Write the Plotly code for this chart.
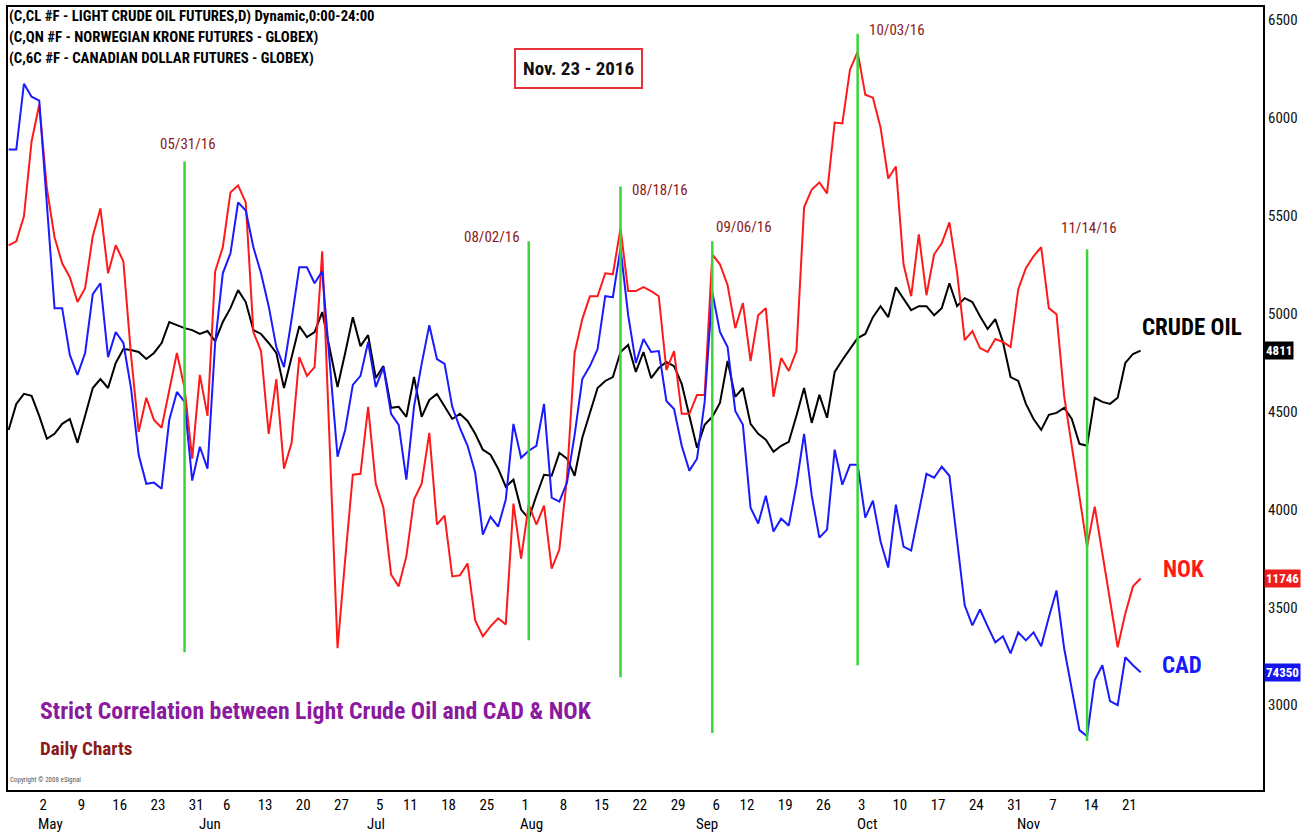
import pandas as pd
import plotly.graph_objects as go

# ---------------- data ----------------
holidays = ["2016-05-30", "2016-07-04", "2016-09-05"]
dates = [d for d in pd.bdate_range("2016-04-26", "2016-11-23")
         if d.strftime("%Y-%m-%d") not in holidays]

crude_oil = [4406, 4539, 4590, 4580, 4478, 4361, 4386, 4437, 4462, 4340,
             4478, 4620, 4666, 4620, 4748, 4819, 4814, 4804, 4768, 4799,
             4850, 4957, 4941, 4926, 4916, 4896, 4911, 4860, 4957, 5028,
             5120, 5059, 4916, 4896, 4850, 4799, 4620, 4784, 4936, 4880,
             4906, 5008, 4814, 4625, 4799, 4982, 4834, 4890, 4671, 4732,
             4519, 4524, 4473, 4676, 4473, 4559, 4590, 4524, 4462, 4488,
             4452, 4386, 4305, 4279, 4208, 4116, 4152, 3999, 3953, 4070,
             4177, 4172, 4289, 4259, 4172, 4366, 4493, 4620, 4656, 4676,
             4804, 4840, 4702, 4804, 4671, 4722, 4753, 4732, 4641, 4478,
             4315, 4432, 4473, 4544, 4758, 4575, 4620, 4437, 4386, 4356,
             4294, 4325, 4345, 4478, 4620, 4442, 4585, 4468, 4702, 4763,
             4819, 4875, 4896, 4982, 5038, 4982, 5135, 5079, 5018, 5038,
             5038, 4992, 5028, 5155, 5038, 5079, 5059, 4987, 4921, 4972,
             4855, 4676, 4656, 4539, 4462, 4406, 4483, 4493, 4519, 4462,
             4335, 4325, 4570, 4549, 4539, 4570, 4748, 4794, 4811]

nok = [5349, 5369, 5497, 5879, 6067, 5639, 5390, 5257, 5186, 5059,
       5130, 5395, 5537, 5206, 5349, 5267, 4789, 4396, 4570, 4457,
       4417, 4600, 4799, 4620, 4259, 4687, 4478, 5216, 5339, 5619,
       5655, 5568, 4906, 4809, 4386, 4666, 4208, 4340, 4778, 4682,
       4727, 5318, 4300, 3291, 3744, 4177, 4182, 4524, 4131, 4009,
       3668, 3607, 3760, 4050, 4131, 4391, 3923, 3968, 3658, 3663,
       3724, 3433, 3352, 3403, 3444, 3413, 4030, 3749, 4024, 3923,
       4019, 3698, 3795, 4162, 4799, 4972, 5089, 5089, 5206, 5201,
       5436, 5115, 5115, 5135, 5115, 5089, 4712, 4809, 4488, 4488,
       4585, 4585, 5303, 5252, 5145, 4926, 5054, 4758, 4992, 5028,
       4575, 4773, 4707, 4809, 5543, 5634, 5670, 5614, 5976, 5971,
       6246, 6337, 6118, 6103, 5950, 5690, 5751, 5252, 5089, 5405,
       5094, 5303, 5359, 5466, 5211, 4865, 4911, 4824, 4804, 4870,
       4855, 4829, 5125, 5232, 5293, 5339, 5028, 4997, 4580, 4325,
       4075, 3810, 4014, 3770, 3525, 3296, 3469, 3607, 3647]

cad = [5838, 5838, 6174, 6108, 6088, 5573, 5028, 5028, 4789, 4687,
       4799, 5099, 5155, 4778, 4906, 4850, 4620, 4279, 4131, 4137,
       4106, 4457, 4600, 4549, 4147, 4320, 4208, 4850, 5206, 5308,
       5568, 5527, 5339, 5206, 5038, 4829, 4727, 4972, 5237, 5237,
       5155, 5216, 4743, 4269, 4406, 4636, 4682, 4855, 4625, 4727,
       4488, 4432, 4152, 4524, 4743, 4941, 4768, 4743, 4524, 4417,
       4325, 4187, 3871, 3963, 3912, 4050, 4437, 4264, 4300, 4325,
       4539, 4060, 4040, 4137, 4381, 4666, 4732, 4819, 5089, 5084,
       5334, 4992, 4748, 4870, 4804, 4809, 4554, 4513, 4325, 4198,
       4259, 4549, 5110, 4906, 4829, 4503, 4432, 4009, 3928, 4070,
       3887, 3953, 3917, 4126, 4386, 4070, 3856, 3897, 4305, 4126,
       4228, 4228, 3958, 4045, 3836, 3703, 4024, 3810, 3790, 3984,
       4182, 4162, 4218, 4172, 3841, 3510, 3408, 3489, 3403, 3321,
       3352, 3265, 3372, 3331, 3372, 3301, 3449, 3586, 3291, 3077,
       2873, 2842, 3128, 3204, 3021, 3000, 3245, 3204, 3168]

tick_dates = ["2016-05-02", "2016-05-09", "2016-05-16", "2016-05-23", "2016-05-31",
              "2016-06-06", "2016-06-13", "2016-06-20", "2016-06-27", "2016-07-05",
              "2016-07-11", "2016-07-18", "2016-07-25", "2016-08-01", "2016-08-08",
              "2016-08-15", "2016-08-22", "2016-08-29", "2016-09-06", "2016-09-12",
              "2016-09-19", "2016-09-26", "2016-10-03", "2016-10-10", "2016-10-17",
              "2016-10-24", "2016-10-31", "2016-11-07", "2016-11-14", "2016-11-21"]
tick_text = ["2", "9", "16", "23", "31", "6", "13", "20", "27", "5", "11", "18", "25",
             "1", "8", "15", "22", "29", "6", "12", "19", "26", "3", "10", "17", "24",
             "31", "7", "14", "21"]

month_starts = ["2016-05-02", "2016-06-01", "2016-07-01", "2016-08-01",
                "2016-09-01", "2016-10-03", "2016-11-01"]
month_names = ["May", "Jun", "Jul", "Aug", "Sep", "Oct", "Nov"]

y_ticks = [3000, 3500, 4000, 4500, 5000, 5500, 6000, 6500]

event_dates = ["2016-05-27", "2016-08-02", "2016-08-18", "2016-09-06", "2016-10-03", "2016-11-14"]
event_labels = ["05/31/16", "08/02/16", "08/18/16", "09/06/16", "10/03/16", "11/14/16"]
event_top = [5777, 5369, 5649, 5369, 6429, 5329]
event_bottom = [3270, 3332, 3143, 2858, 3204, 2817]

last_tags = ["4811", "11746", "74350"]

header_lines = ["(C,CL #F - LIGHT CRUDE OIL FUTURES,D) Dynamic,0:00-24:00",
                "(C,QN #F - NORWEGIAN KRONE FUTURES - GLOBEX)",
                "(C,6C #F - CANADIAN DOLLAR FUTURES - GLOBEX)"]

# ---------------- styling ----------------
NARROW = "Liberation Sans Narrow, Arial Narrow, Roboto Condensed, DejaVu Sans Condensed, sans-serif"
C_CRUDE, C_NOK, C_CAD = "#000000", "#ff1a1a", "#1a1aff"
C_GREEN = "#3ad43a"
C_DATE = "#8b1a1a"

L, R, T, B = 8, 1263, 5, 790
W, H = R - L, B - T


def px_x(x):
    return (x - L) / W


def px_y(y):
    return (B - y) / H


fig = go.Figure()
fig.add_trace(go.Scatter(x=dates, y=crude_oil, mode="lines", line=dict(color=C_CRUDE, width=2),
                         name="CRUDE OIL", showlegend=False))
fig.add_trace(go.Scatter(x=dates, y=nok, mode="lines", line=dict(color=C_NOK, width=2),
                         name="NOK", showlegend=False))
fig.add_trace(go.Scatter(x=dates, y=cad, mode="lines", line=dict(color=C_CAD, width=2),
                         name="CAD", showlegend=False))

# event lines and labels
label_px = [(188, 142), (492, 236), (660, 188), (744, 226), (897, 28), (1089, 227)]
for d, lab, y0, y1, (lx, ly) in zip(event_dates, event_labels, event_bottom, event_top, label_px):
    fig.add_shape(type="line", xref="x", yref="y", x0=d, x1=d, y0=y0, y1=y1,
                  line=dict(color=C_GREEN, width=2.5))
    fig.add_annotation(text=lab, xref="paper", yref="paper", x=px_x(lx), y=px_y(ly),
                       showarrow=False, xanchor="center", yanchor="middle",
                       font=dict(family=NARROW, size=15, color=C_DATE))

# month labels under the day numbers
for d, m in zip(month_starts, month_names):
    fig.add_annotation(text=m, xref="x", yref="paper", x=d, y=px_y(824),
                       showarrow=False, xanchor="left", yanchor="middle", xshift=-3,
                       font=dict(family=NARROW, size=15, color="#000000"))

# header
for i, line in enumerate(header_lines):
    fig.add_annotation(text="<b>" + line + "</b>", xref="paper", yref="paper", x=0,
                       y=px_y(14 + i * 21),
                       showarrow=False, xanchor="left", yanchor="middle", xshift=-1,
                       font=dict(family=NARROW, size=14.8, color="#000000"))

# date box
fig.add_annotation(text="<b>Nov. 23 - 2016</b>", xref="paper", yref="paper",
                   x=px_x(578), y=px_y(67), showarrow=False, xanchor="center", yanchor="middle",
                   font=dict(family=NARROW, size=19, color="#111111"),
                   bordercolor="#e8323a", borderwidth=2, borderpad=7, bgcolor="#ffffff")

# series names
for txt, cx, cy, col in [("CRUDE OIL", 1192, 326, C_CRUDE), ("NOK", 1183, 569, C_NOK),
                         ("CAD", 1182, 665, C_CAD)]:
    fig.add_annotation(text="<b>" + txt + "</b>", xref="paper", yref="paper", x=px_x(cx), y=px_y(cy),
                       showarrow=False, xanchor="center", yanchor="middle",
                       font=dict(family=NARROW, size=23, color=col))

# last value tags on the price axis
for tag, val, col in zip(last_tags, [crude_oil[-1], nok[-1], cad[-1]], ["#000000", "#ee1c1c", "#1515ee"]):
    fig.add_annotation(text="<b>" + tag + "</b>", xref="paper", yref="y", x=1, y=val,
                       showarrow=False, xanchor="left", yanchor="middle", xshift=1,
                       font=dict(family=NARROW, size=13, color="#ffffff"),
                       bgcolor=col, borderpad=1)

# bottom-left notes
fig.add_annotation(text="<b>Strict Correlation between Light Crude Oil and CAD &amp; NOK</b>",
                   xref="paper", yref="paper", x=px_x(38), y=px_y(711), showarrow=False,
                   xanchor="left", yanchor="middle",
                   font=dict(family=NARROW, size=23.8, color="#8a1a9e"))
fig.add_annotation(text="<b>Daily Charts</b>", xref="paper", yref="paper", x=px_x(38), y=px_y(748),
                   showarrow=False, xanchor="left", yanchor="middle",
                   font=dict(family=NARROW, size=19, color=C_DATE))
fig.add_annotation(text="Copyright © 2008 eSignal", xref="paper", yref="paper", x=0, y=px_y(780),
                   showarrow=False, xanchor="left", yanchor="middle",
                   font=dict(family=NARROW, size=7, color="#555555"))

fig.update_layout(
    width=1305, height=832,
    margin=dict(l=L, r=1305 - R, t=T, b=832 - B),
    paper_bgcolor="#ffffff", plot_bgcolor="#ffffff",
    showlegend=False,
    xaxis=dict(
        type="date",
        range=["2016-04-25 22:00", "2016-12-15"],
        rangebreaks=[dict(bounds=["sat", "mon"]), dict(values=holidays)],
        tickvals=tick_dates, ticktext=tick_text, ticks="",
        ticklabelshift=4,
        tickfont=dict(family=NARROW, size=15, color="#000000"),
        showgrid=False, zeroline=False,
        showline=True, linecolor="#000000", linewidth=2, mirror=True,
    ),
    yaxis=dict(
        side="right",
        range=[2567, 6566],
        tickvals=y_ticks, ticks="",
        tickfont=dict(family=NARROW, size=15, color="#111111"),
        showgrid=False, zeroline=False,
        showline=True, linecolor="#000000", linewidth=2, mirror=True,
    ),
)

fig.write_html("out.html", config={"displayModeBar": False},
               post_script="document.body.style.margin='0';")
